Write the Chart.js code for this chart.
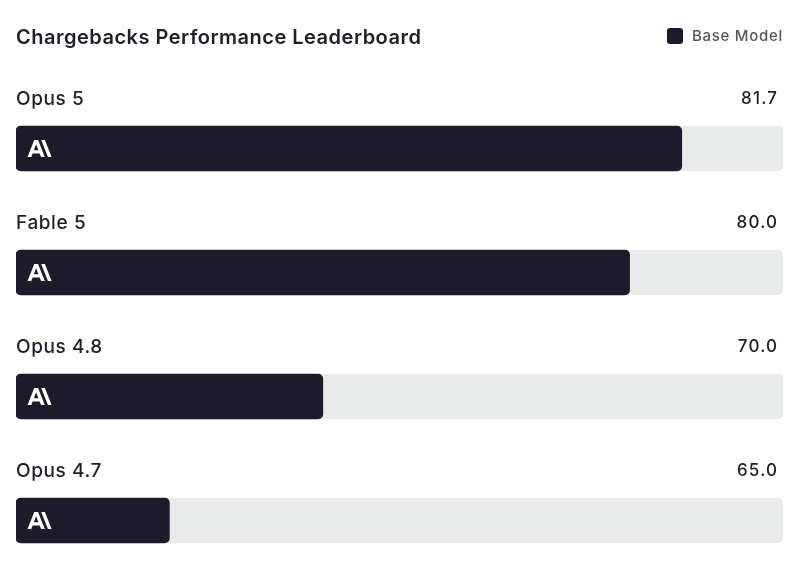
<!DOCTYPE html>
<html>
<head>
<meta charset="utf-8">
<script src="https://cdn.jsdelivr.net/npm/chart.js@4.4.1/dist/chart.umd.min.js"></script>
<style>
  html, body { margin: 0; padding: 0; background: #ffffff; overflow: hidden; }
  #wrap { width: 800px; height: 590px; position: relative; }
</style>
</head>
<body>
<div id="wrap"><canvas id="c" width="800" height="590"></canvas></div>
<script>
const chartTitle = 'Chargebacks Performance Leaderboard';
const seriesName = 'Base Model';
const categories = ['Opus 5', 'Fable 5', 'Opus 4.8', 'Opus 4.7'];
const baseModelScores = [81.7, 80.0, 70.0, 65.0];
const axisMin = 60;
const axisMax = 85;

const BAR_COLOR = '#1c1a2b';
const TRACK_COLOR = '#e9eaea';
const TEXT_COLOR = '#1f1e2a';
const FONT = 'Inter, "Noto Sans", sans-serif';

const logoPath = new Path2D('M32.73 0h-6.945L38.45 32h6.945L32.73 0ZM12.665 0 0 32h7.082l2.59-6.72h13.25l2.59 6.72h7.082L19.929 0h-7.264Zm-.702 19.337 4.334-11.246 4.334 11.246h-8.668Z');

function rr(ctx, x, y, w, h, r) {
  ctx.beginPath();
  ctx.moveTo(x + r, y);
  ctx.lineTo(x + w - r, y);
  ctx.quadraticCurveTo(x + w, y, x + w, y + r);
  ctx.lineTo(x + w, y + h - r);
  ctx.quadraticCurveTo(x + w, y + h, x + w - r, y + h);
  ctx.lineTo(x + r, y + h);
  ctx.quadraticCurveTo(x, y + h, x, y + h - r);
  ctx.lineTo(x, y + r);
  ctx.quadraticCurveTo(x, y, x + r, y);
  ctx.closePath();
}

const trackPlugin = {
  id: 'tracks',
  beforeDatasetsDraw(chart) {
    const ctx = chart.ctx;
    const xs = chart.scales.x;
    const meta = chart.getDatasetMeta(0);
    ctx.save();
    ctx.fillStyle = TRACK_COLOR;
    meta.data.forEach(bar => {
      const h = bar.height;
      rr(ctx, xs.left, bar.y - h / 2, xs.right - xs.left, h, 5);
      ctx.fill();
    });
    ctx.restore();
  }
};

const labelPlugin = {
  id: 'labels',
  afterDatasetsDraw(chart) {
    const ctx = chart.ctx;
    const xs = chart.scales.x;
    const meta = chart.getDatasetMeta(0);
    ctx.save();
    meta.data.forEach((bar, i) => {
      const top = bar.y - bar.height / 2;
      ctx.fillStyle = TEXT_COLOR;
      ctx.textBaseline = 'middle';
      ctx.textAlign = 'left';
      ctx.font = '500 19px ' + FONT;
      ctx.letterSpacing = '0.6px';
      ctx.fillText(categories[i], xs.left, top - 27);
      ctx.textAlign = 'right';
      ctx.font = '500 17px ' + FONT;
      ctx.letterSpacing = '1.2px';
      ctx.fillText(baseModelScores[i].toFixed(1), xs.right - 6 + 1.2, top - 27);
      ctx.letterSpacing = '0px';
      // logo
      ctx.save();
      const s = 17 / 32;
      ctx.translate(xs.left + 11.5, bar.y - 8.5);
      ctx.scale(s, s);
      ctx.fillStyle = '#ffffff';
      ctx.fill(logoPath);
      ctx.restore();
    });
    // title
    ctx.fillStyle = TEXT_COLOR;
    ctx.textAlign = 'left';
    ctx.textBaseline = 'middle';
    ctx.font = '600 20px ' + FONT;
    ctx.letterSpacing = '0.5px';
    ctx.fillText(chartTitle, 16, 38);
    // legend
    ctx.letterSpacing = '0px';
    ctx.fillStyle = BAR_COLOR;
    rr(ctx, 667, 28, 16, 16, 3);
    ctx.fill();
    ctx.fillStyle = '#55555c';
    ctx.font = '500 15px ' + FONT;
    ctx.letterSpacing = '0.7px';
    ctx.fillText(seriesName, 692, 36);
    ctx.restore();
  }
};

new Chart(document.getElementById('c'), {
  type: 'bar',
  data: {
    labels: categories,
    datasets: [{
      label: seriesName,
      data: baseModelScores,
      base: axisMin,
      backgroundColor: BAR_COLOR,
      borderRadius: 5,
      borderSkipped: false,
      barThickness: 45
    }]
  },
  options: {
    indexAxis: 'y',
    responsive: false,
    animation: false,
    devicePixelRatio: 1,
    layout: { padding: { left: 16, right: 17, top: 86.5, bottom: 7.5 } },
    scales: {
      x: { min: axisMin, max: axisMax, display: false },
      y: { display: false, offset: true }
    },
    plugins: {
      legend: { display: false },
      title: { display: false },
      tooltip: { enabled: false }
    }
  },
  plugins: [trackPlugin, labelPlugin]
});
</script>
</body>
</html>
